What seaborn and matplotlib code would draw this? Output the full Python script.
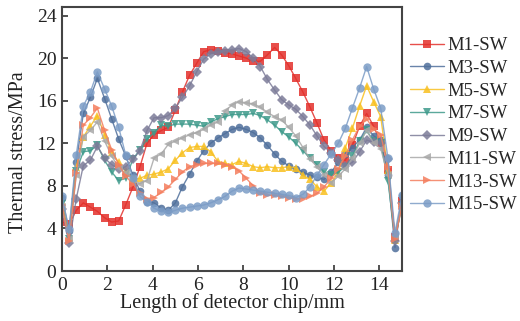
import numpy as np
import pandas as pd
import matplotlib
matplotlib.use('Agg')
import matplotlib.pyplot as plt
import seaborn as sns

# ── data (49 points along the chip) ──
x_mm = [0, 0.31, 0.63, 0.94, 1.25, 1.56, 1.88, 2.19, 2.5, 2.81, 3.13, 3.44,
        3.75, 4.06, 4.38, 4.69, 5.0, 5.31, 5.63, 5.94, 6.25, 6.56, 6.88, 7.19,
        7.5, 7.81, 8.13, 8.44, 8.75, 9.06, 9.38, 9.69, 10.0, 10.31, 10.63,
        10.94, 11.25, 11.56, 11.88, 12.19, 12.5, 12.81, 13.13, 13.44, 13.75,
        14.06, 14.38, 14.69, 15.0]

m1 = [4.6, 4.4, 5.7, 6.4, 6.0, 5.6, 5.0, 4.6, 4.7, 6.2, 7.9, 9.8,
      12.0, 12.8, 13.2, 13.5, 15.1, 16.8, 18.4, 19.5, 20.6, 20.8, 20.7, 20.5,
      20.4, 20.2, 20.0, 19.7, 19.7, 20.3, 21.0, 20.3, 19.3, 18.1, 16.8,
      15.4, 13.9, 12.3, 11.3, 10.6, 10.4, 11.8, 13.6, 14.8, 13.6,
      12.0, 9.5, 3.2, 6.6]
m3 = [6.9, 3.8, 10.2, 14.8, 16.3, 18.1, 16.2, 14.3, 12.4, 10.8, 9.0, 7.5,
      6.5, 6.4, 5.9, 5.7, 6.4, 7.9, 9.1, 10.3, 11.3, 12.0, 12.5, 12.9,
      13.3, 13.5, 13.3, 13.0, 12.5, 11.8, 11.0, 10.3, 9.9, 9.6, 9.3,
      9.0, 8.8, 8.6, 9.3, 10.2, 11.0, 11.6, 12.3, 13.5, 12.7,
      12.3, 9.0, 2.2, 7.0]
m5 = [6.5, 3.2, 9.8, 12.6, 13.6, 14.6, 12.8, 11.2, 10.2, 9.4, 8.6, 8.7,
      9.0, 9.1, 9.3, 9.6, 10.4, 11.1, 11.6, 11.7, 11.7, 11.2, 10.3, 10.1,
      10.0, 10.3, 10.1, 9.8, 9.7, 9.8, 9.7, 9.7, 9.8, 9.7, 9.0,
      8.6, 7.9, 7.5, 8.3, 9.2, 11.6, 13.4, 15.5, 17.4, 15.9,
      14.5, 9.5, 2.9, 6.4]
m7 = [6.3, 3.0, 9.4, 11.2, 11.3, 11.8, 10.4, 9.3, 8.5, 8.7, 10.5, 11.4,
      12.4, 13.0, 13.7, 13.6, 13.8, 13.8, 13.8, 13.7, 13.6, 14.0, 14.3, 14.5,
      14.7, 14.7, 14.7, 14.8, 14.6, 14.2, 13.7, 13.1, 12.6, 12.0, 11.3,
      10.6, 10.0, 9.3, 9.0, 9.3, 9.8, 10.8, 12.2, 13.2, 12.2,
      12.0, 8.5, 3.0, 6.2]
m9 = [5.8, 2.6, 6.8, 9.9, 10.4, 11.7, 10.6, 10.0, 9.6, 9.8, 10.5, 11.3,
      13.2, 14.4, 14.4, 14.6, 15.3, 16.3, 17.4, 18.7, 19.9, 20.4, 20.6, 20.7,
      20.8, 20.9, 20.6, 20.0, 19.2, 18.0, 17.0, 16.1, 15.6, 15.2, 14.5,
      13.7, 12.7, 11.7, 11.1, 10.4, 9.9, 10.2, 11.2, 12.3, 12.1,
      12.0, 10.5, 2.8, 6.4]
m11 = [6.0, 3.0, 9.0, 12.6, 13.2, 14.0, 12.2, 10.8, 9.7, 9.2, 8.6, 8.2,
       8.5, 10.6, 11.0, 11.9, 12.2, 12.5, 12.8, 13.0, 13.3, 13.7, 14.0, 15.0,
       15.6, 15.9, 15.8, 15.7, 15.4, 14.9, 14.5, 14.2, 13.5, 12.7, 11.6,
       10.5, 9.8, 9.0, 8.3, 8.9, 9.6, 10.6, 12.0, 13.2, 12.0,
       11.5, 9.0, 3.3, 6.3]
m13 = [6.2, 2.8, 9.2, 13.7, 14.4, 15.3, 13.2, 11.4, 10.0, 8.9, 8.2, 7.3,
       6.8, 6.9, 7.4, 7.9, 8.6, 9.3, 9.8, 10.0, 10.1, 10.1, 10.1, 10.0,
       9.8, 9.4, 8.7, 8.0, 7.3, 7.1, 7.1, 7.0, 6.9, 6.8, 6.8,
       7.0, 7.3, 7.9, 8.7, 9.6, 10.8, 12.3, 13.6, 14.3, 13.3,
       12.8, 9.8, 3.0, 6.1]
m15 = [7.0, 3.9, 10.9, 15.5, 16.8, 18.7, 17.1, 15.5, 13.5, 10.9, 8.7, 7.0,
       6.5, 5.9, 5.6, 5.5, 5.7, 5.9, 6.0, 6.1, 6.2, 6.4, 6.7, 7.0,
       7.5, 7.8, 7.7, 7.6, 7.5, 7.4, 7.3, 7.2, 7.1, 6.9, 7.2,
       7.9, 9.0, 10.0, 11.0, 12.0, 13.4, 15.3, 17.2, 19.2, 17.1,
       15.3, 10.6, 3.6, 7.1]

names = ['M1-SW', 'M3-SW', 'M5-SW', 'M7-SW', 'M9-SW', 'M11-SW', 'M13-SW', 'M15-SW']
series = [m1, m3, m5, m7, m9, m11, m13, m15]
colors = ['#e3302b', '#4f6f9b', '#f8c020', '#3e9a8b', '#7c7b98', '#a8a8a8', '#f47e5e', '#7b9cc6']
markers = ['s', 'o', '^', 'v', 'D', '<', '>', 'o']
msizes = [5.5, 5.5, 6, 6, 5, 6, 6, 6]

sns.set_theme(style='ticks')
plt.rcParams['font.family'] = ['Liberation Serif', 'DejaVu Serif']

fig = plt.figure(figsize=(5.2, 3.21), dpi=100)
ax = fig.add_axes([62 / 520, 50 / 321, 340 / 520, 264 / 321])

for name, vals, c, mk, ms in zip(names, series, colors, markers, msizes):
    df = pd.DataFrame({'x': x_mm, 'y': vals})
    sns.lineplot(data=df, x='x', y='y', ax=ax, color=c, marker=mk,
                 markersize=ms, markeredgewidth=0, linewidth=1.0,
                 alpha=0.85, label=name, sort=False)

ax.set_xlim(0, 15)
ax.set_ylim(0, 24.8)
ax.set_xticks([0, 2, 4, 6, 8, 10, 12, 14])
ax.set_yticks([0, 4, 8, 12, 16, 20, 24])
ax.tick_params(direction='in', length=4, width=1.2, labelsize=14,
               color='#333333', labelcolor='#222222', pad=4)
for sp in ax.spines.values():
    sp.set_color('#444444')
    sp.set_linewidth(1.5)

ax.set_xlabel('Length of detector chip/mm', fontsize=14.5, color='#222222', labelpad=0)
ax.set_ylabel('Thermal stress/MPa', fontsize=14.5, color='#222222')
ax.yaxis.set_label_coords(-0.1, 0.45)

ax.legend(loc='upper left', bbox_to_anchor=(1.0, 0.915), frameon=False,
          fontsize=13.5, handlelength=1.85, handletextpad=0.2,
          labelspacing=0.3, borderaxespad=0.0, borderpad=0.4)

fig.savefig('out.png', dpi=100)
